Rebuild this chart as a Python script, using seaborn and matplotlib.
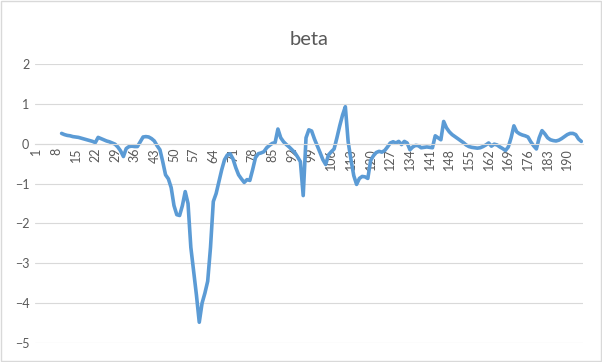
import numpy as np
import pandas as pd
import seaborn as sns
import matplotlib.pyplot as plt
from matplotlib.patches import Rectangle

# beta series, categories 10..195 (1..9 empty)
start_cat = 10
n_cats = 195
beta = [
    0.26, 0.23, 0.21, 0.20, 0.18, 0.17, 0.16, 0.14, 0.12, 0.10,   # 10-19
    0.08, 0.06, 0.03, 0.16, 0.13, 0.10, 0.07, 0.05, 0.02, -0.01,  # 20-29
    -0.08, -0.18, -0.32, -0.12, -0.07, -0.06, -0.07, -0.07, 0.05, 0.17,  # 30-39
    0.18, 0.17, 0.13, 0.07, -0.05, -0.15, -0.45, -0.78, -0.88, -1.10,   # 40-49
    -1.55, -1.78, -1.80, -1.55, -1.20, -1.50, -2.60, -3.20, -3.80, -4.48,  # 50-59
    -4.00, -3.75, -3.45, -2.60, -1.45, -1.25, -0.95, -0.65, -0.40, -0.28,  # 60-69
    -0.25, -0.38, -0.60, -0.78, -0.88, -0.97, -0.90, -0.92, -0.65, -0.35,  # 70-79
    -0.25, -0.23, -0.20, -0.10, -0.04, 0.01, 0.03, 0.37, 0.15, 0.05,     # 80-89
    -0.02, -0.08, -0.15, -0.22, -0.33, -0.45, -1.30, 0.15, 0.35, 0.32,   # 90-99
    0.12, -0.05, -0.22, -0.40, -0.52, -0.28, -0.20, -0.13, 0.15, 0.45,   # 100-109
    0.72, 0.93, 0.05, -0.40, -0.80, -1.02, -0.87, -0.82, -0.83, -0.87,   # 110-119
    -0.42, -0.30, -0.22, -0.19, -0.21, -0.17, -0.08, 0.02, 0.05, 0.02,   # 120-129
    0.06, -0.02, 0.06, 0.02, -0.15, -0.08, -0.04, -0.05, -0.10, -0.09,   # 130-139
    -0.08, -0.09, -0.10, 0.20, 0.15, 0.10, 0.56, 0.40, 0.30, 0.23,      # 140-149
    0.18, 0.13, 0.08, 0.03, -0.03, -0.07, -0.09, -0.10, -0.11, -0.10,   # 150-159
    -0.07, -0.03, 0.02, -0.06, -0.01, -0.03, -0.08, -0.12, -0.17, -0.08,  # 160-169
    0.15, 0.45, 0.30, 0.25, 0.22, 0.20, 0.17, 0.05, -0.05, -0.13,       # 170-179
    0.15, 0.33, 0.25, 0.15, 0.10, 0.08, 0.07, 0.09, 0.13, 0.18,         # 180-189
    0.23, 0.26, 0.26, 0.23, 0.12, 0.06,                                 # 190-195
]
y_ticks = [2, 1, 0, -1, -2, -3, -4, -5]
x_ticks = list(range(1, n_cats + 1, 7))

df = pd.DataFrame({"cat": np.arange(start_cat, start_cat + len(beta)), "beta": beta})

sns.set_style("white")
plt.rcParams["font.family"] = ["Lato", "DejaVu Sans"]

fig = plt.figure(figsize=(6.02, 3.62), dpi=100)
ax = fig.add_axes([0.058, 0.0525, 0.91, 0.7705])

sns.lineplot(data=df, x="cat", y="beta", ax=ax, color="#5B9BD5", linewidth=2.6)

for s in ["top", "right", "left"]:
    ax.spines[s].set_visible(False)
# x axis crosses at 0, like the spreadsheet chart
ax.spines["bottom"].set_position(("data", 0))
ax.spines["bottom"].set_color("#d9d9d9")
ax.spines["bottom"].set_linewidth(0.8)

ax.set_xlim(0.5, n_cats + 0.5)
ax.set_ylim(-5, 2)
ax.set_yticks(y_ticks)
ax.set_xticks(x_ticks)
ax.set_xticklabels([str(t) for t in x_ticks])
ax.yaxis.grid(True, color="#d9d9d9", linewidth=0.8)
ax.set_axisbelow(True)
ax.tick_params(axis="both", length=0, labelsize=9, labelcolor="#595959", pad=4)
ax.tick_params(axis="x", labelrotation=90, pad=3)
ax.set_xlabel("")
ax.set_ylabel("")
ax.set_title("beta", fontsize=14.5, color="#595959", pad=14)

fig.patches.append(Rectangle((0.002, 0.003), 0.996, 0.994, transform=fig.transFigure,
                             fill=False, edgecolor="#d9d9d9", linewidth=1))

fig.savefig("out.png", dpi=100)
